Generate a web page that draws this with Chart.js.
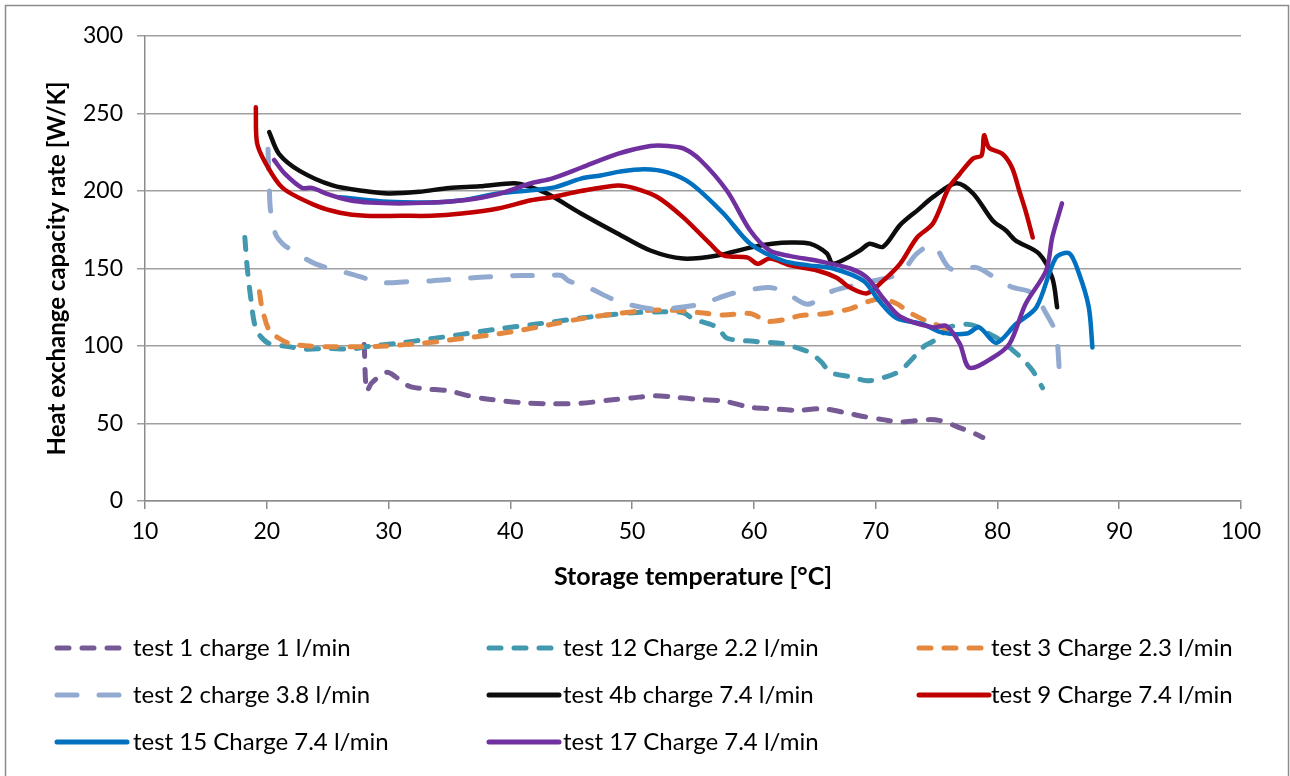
<!DOCTYPE html>
<html>
<head>
<meta charset="utf-8">
<script src="https://cdn.jsdelivr.net/npm/chart.js@4"></script>
<style>
html,body{margin:0;padding:0;background:#fff;}
#wrap{width:1290px;height:776px;position:relative;}
</style>
</head>
<body>
<div id="wrap"><canvas id="c" width="1290" height="776"></canvas></div>
<script>
// ---- data ----
const xTicks = [10,20,30,40,50,60,70,80,90,100];
const yTicks = [0,50,100,150,200,250,300];

const labels = ["test 1 charge 1 l/min","test 12 Charge 2.2 l/min","test 3 Charge 2.3 l/min",
  "test 2 charge 3.8 l/min","test 4b charge 7.4 l/min","test 9 Charge 7.4 l/min",
  "test 15 Charge 7.4 l/min","test 17 Charge 7.4 l/min"];

const t1x = [28.0,28.2,28.6,29.2,29.9,30.6,31.7,33.0,35.0,36.5,37.9,39.5,41.2,43.4,45.8,48.0,50.0,51.8,53.5,55.5,57.5,59.7,61.5,63.5,65.7,67.5,69.0,70.6,72.0,74.4,75.5,77.0,78.0,78.8];
const t1y = [101,71,76,80,83,80,74,72.4,71,68,66,64.5,63.3,62.7,63,65,66.5,67.9,67,65.5,64.5,60.5,59.5,58.5,59.5,57,54.5,52.5,51,52.5,51.5,47,44,41];

const t12x = [18.2,18.4,18.7,19.0,19.4,20.2,21.5,23.2,25.0,26.8,28.6,31.0,33.5,36.0,39.0,42.0,45.8,48.0,50.1,52.0,54.2,55.0,57.0,57.8,60.0,62.4,63.5,64.6,65.5,66.3,68.0,69.3,70.6,72.0,73.4,74.0,74.7,75.5,76.0,77.5,78.5,79.3,80.2,81.0,82.0,82.9,83.7];
const t12y = [170,150,130,114,107,101.5,100,98,98.5,98,100,102,104.7,107.5,111,114,118,120,121.5,122,121.5,117.6,112,105,103,101.5,99,95.7,90,83,80,77.6,79.5,84,95,100,103,108,112,114,112,108,104,99,92,84,73];

const t3x = [19.4,19.6,20.2,21.0,21.9,23.5,25.4,27.5,29.7,33.0,36.2,40.0,43.4,45.8,48.8,51.5,53.5,55.6,57.5,59.7,61.1,62.5,63.8,66.0,67.9,69.5,70.6,71.8,72.8,74.2,75.5,75.8];
const t3y = [135,125,110,105,101.5,100,99.5,99.5,100,102,105,109,114,117.6,121,123,123,121.5,120,121,116,117,119.6,121,124,129,130.5,127,121.5,116,112,108.6];

const t2x = [20.1,20.2,20.3,20.7,21.3,22.1,24.0,26.8,29.5,31.5,33.5,36.0,39.0,41.0,43.1,44.2,44.8,46.4,48.8,51.5,53.5,55.6,58.3,61.1,62.4,64.4,66.5,69.3,72.0,73.4,74.7,76.0,76.9,78.3,80.2,81.2,82.9,84.0,84.8,85.1];
const t2y = [227,205,188,172.6,166,161.6,153,146.7,141,141.5,142,143.5,145,145.5,145.5,145.5,142,137.7,129,124,124.5,127,134,137.7,135.6,127,135.6,141,147,159.7,165,150.6,148.7,150.6,142,138,134,121,108,82];

const t4bx = [20.2,21.0,22.7,25.4,28.0,30.0,32.5,35.0,37.5,40.3,41.5,43.1,45.8,48.8,51.5,54.2,57.0,59.7,61.5,63.0,64.6,66.0,66.5,68.7,69.5,70.6,72.0,73.5,74.7,76.6,78.0,79.6,80.7,81.5,83.4,84.5,84.9];
const t4by = [238,224,213,203.6,200,198.4,199.5,202,203,205,203,198,185.5,172.6,161.6,156.4,158.4,163.5,166,166.8,166,159.7,153,161.6,166,164,178,188,196,205,198.4,181,174.5,168,159.7,144,125];

const t9x = [19.1,19.2,19.9,21.3,24.0,26.0,28.1,31.0,33.5,36.0,39.0,41.7,43.4,45.8,48.8,50.1,52.1,54.2,56.4,57.5,59.5,60.3,61.3,63.0,65.2,66.8,67.9,69.3,70.6,72.0,73.4,74.7,76.0,76.9,78.0,78.7,78.9,79.3,80.4,81.2,81.8,82.3,82.9];
const t9y = [254,231,218,202,190.7,186,184,184,184,185.5,188.7,194,196,200,203.6,202,196,183,166,158.4,157,153,156.4,152,148.7,144,137.7,134,142,153,170,179,202,211,221,223,236,228,224,215,200,187.5,170];

const t15x = [26.0,30.0,33.5,36.0,39.0,43.4,45.8,47.4,49.0,51.0,52.9,54.8,57.5,59.7,62.4,64.5,66.5,69.0,70.3,71.7,73.9,75.5,77.5,78.5,79.9,81.5,83.2,84.8,85.9,86.7,87.5,87.8];
const t15y = [196,193,192.6,194,198.4,202,208,210,212.5,214,212,205,185.5,166,155,152,150,142,129,118,114,108.6,108,112,102,114,125,157,159.7,146.7,125,99];

const t17x = [20.6,21.5,22.9,23.7,25.0,26.8,28.5,30.8,33.5,36.2,39.0,41.7,43.4,45.8,48.8,51.5,53.0,54.2,55.6,57.8,59.7,61.3,63.0,65.2,67.9,69.3,70.6,72.0,74.7,75.8,76.9,77.7,79.6,81.0,82.3,84.0,84.5,85.3];
const t17y = [220,211,202,202,198,194,192.5,192,192.5,194,198,205,208,215,224,229,229,227.5,220,200,174.5,161.6,158,155,150,144,131,119,112,113,101.5,86,92.4,101.5,127,148.7,170,192];

const seriesX = [t1x,t12x,t3x,t2x,t4bx,t9x,t15x,t17x];
const seriesY = [t1y,t12y,t3y,t2y,t4by,t9y,t15y,t17y];
const colors = ['#765A96','#4198AF','#E3883E','#92AACF','#0D0D0D','#C00000','#0070C0','#7030A0'];
const dashes = [[12,13],[12,13],[12,13],[20,22],[],[],[],[]];

const FONT = 'Lato, "Open Sans", sans-serif';

const datasets = labels.map((lab,i)=>({
  label: lab,
  data: seriesX[i].map((x,k)=>({x:x, y:seriesY[i][k]})),
  borderColor: colors[i],
  backgroundColor: colors[i],
  borderWidth: dashes[i].length ? 5 : 4.5,
  borderDash: dashes[i],
  borderCapStyle: 'round',
  borderJoinStyle: 'round',
  pointRadius: 0,
  showLine: true,
  tension: 0.3,
  order: labels.length - 1 - i
}));

const frameAndLegend = {
  id: 'frameAndLegend',
  afterDraw(chart){
    const ctx = chart.ctx;
    ctx.save();
    ctx.strokeStyle = '#8c8c8c';
    ctx.lineWidth = 1.5;
    ctx.strokeRect(5.5, 5.5, 1283, 790);
    const colSym = [55, 487, 917];
    const colText = [133, 563, 991];
    const rows = [648, 695, 742];
    ctx.font = '24px ' + FONT;
    ctx.textBaseline = 'middle';
    ctx.fillStyle = '#000';
    chart.data.datasets.forEach((ds,i)=>{
      const c = i % 3, r = Math.floor(i/3);
      const y = rows[r];
      ctx.beginPath();
      ctx.strokeStyle = ds.borderColor;
      ctx.lineWidth = 5;
      ctx.lineCap = 'round';
      ctx.setLineDash(ds.borderDash || []);
      ctx.moveTo(colSym[c]+2, y);
      ctx.lineTo(colSym[c]+72, y);
      ctx.stroke();
      ctx.setLineDash([]);
      ctx.fillText(ds.label, colText[c], y);
    });
    ctx.restore();
  }
};

new Chart(document.getElementById('c'), {
  type: 'scatter',
  data: { datasets },
  plugins: [frameAndLegend],
  options: {
    responsive: false,
    animation: false,
    layout: { padding: { left: 0, right: 49, top: 36, bottom: 0 } },
    plugins: { legend: { display: false }, tooltip: { enabled: false } },
    scales: {
      x: {
        type: 'linear', min: 10, max: 100,
        afterBuildTicks(s){ s.ticks = xTicks.map(v=>({value:v})); },
        ticks: { color: '#000', font: { family: FONT, size: 23 }, padding: 9, maxRotation: 0 },
        grid: { drawOnChartArea: false, drawTicks: true, tickLength: 8, color: '#8c8c8c', lineWidth: 1.5 },
        border: { color: '#8c8c8c', width: 1.5 },
        title: { display: true, text: 'Storage temperature [°C]', color: '#000',
                 font: { family: FONT, size: 25, weight: 'bold' }, padding: { top: 0, bottom: 184 } },
        afterFit(s){ s.height = 275; }
      },
      y: {
        min: 0, max: 300,
        afterBuildTicks(s){ s.ticks = yTicks.map(v=>({value:v})); },
        ticks: { color: '#000', font: { family: FONT, size: 23 }, padding: 14 },
        grid: { color: '#a0a0a0', lineWidth: 1.5, drawTicks: true, tickLength: 8 },
        border: { color: '#8c8c8c', width: 1.5 },
        title: { display: true, text: 'Heat exchange capacity rate [W/K]', color: '#000',
                 font: { family: FONT, size: 24, weight: 'bold' }, padding: { top: 43, bottom: 0 } },
        afterFit(s){ s.width = 145; }
      }
    }
  }
});
</script>
</body>
</html>
